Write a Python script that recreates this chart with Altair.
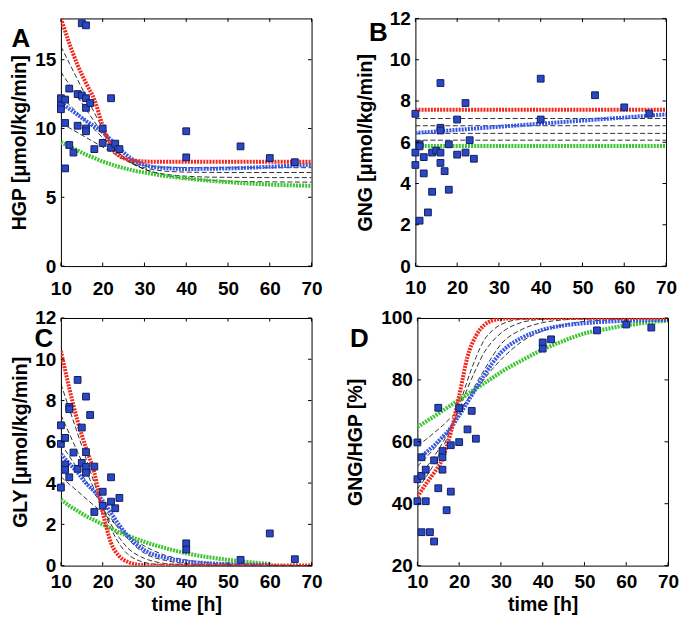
import altair as alt
import pandas as pd

# ---------------- data ----------------
T = [10, 12, 14, 16, 18, 20, 22, 24, 26, 28, 30, 35, 40, 45, 50, 55, 60, 65, 70]
TB = [10, 70]
XTICKS = [10, 20, 30, 40, 50, 60, 70]
LETTERS = ["A", "B", "C", "D"]
YTITLES = ["HGP [μmol/kg/min]", "GNG [μmol/kg/min]", "GLY [μmol/kg/min]", "GNG/HGP [%]"]
XTITLE = "time [h]"
YDOMAINS = [[0, 18], [0, 12], [0, 12], [20, 100]]
YTICKS = [[0, 5, 10, 15], [0, 2, 4, 6, 8, 10, 12], [0, 2, 4, 6, 8, 10, 12], [20, 40, 60, 80, 100]]

# Panel A: HGP
A_red = [18.0, 16.2, 14.6, 13.3, 12.1, 10.2, 8.7, 8.0, 7.75, 7.65, 7.6, 7.58, 7.58, 7.58, 7.58, 7.58, 7.58, 7.58, 7.58]
A_k1 = [15.95, 14.75, 13.55, 12.35, 11.15, 10.0, 8.95, 8.2, 7.7, 7.45, 7.3, 7.18, 7.16, 7.15, 7.15, 7.15, 7.15, 7.15, 7.15]
A_k2 = [14.1, 13.2, 12.3, 11.4, 10.5, 9.65, 8.8, 8.15, 7.65, 7.35, 7.15, 6.9, 6.83, 6.81, 6.8, 6.8, 6.8, 6.8, 6.8]
A_k3 = [12.33, 11.73, 11.13, 10.53, 9.93, 9.33, 8.73, 8.18, 7.73, 7.33, 7.03, 6.68, 6.53, 6.47, 6.45, 6.44, 6.43, 6.43, 6.43]
A_k4 = [10.4, 10.05, 9.7, 9.35, 9.0, 8.65, 8.3, 7.95, 7.6, 7.3, 7.05, 6.6, 6.37, 6.24, 6.17, 6.14, 6.12, 6.11, 6.1]
A_blue = [11.85, 11.43, 11.0, 10.55, 10.15, 9.75, 9.15, 8.55, 8.0, 7.6, 7.35, 7.12, 7.06, 7.07, 7.1, 7.15, 7.22, 7.29, 7.36]
A_green = [9.0, 8.7, 8.4, 8.1, 7.85, 7.6, 7.4, 7.2, 7.05, 6.9, 6.8, 6.55, 6.37, 6.22, 6.1, 6.0, 5.92, 5.87, 5.84]
A_pt_t = [10, 10, 10, 11, 11, 11, 12, 12, 13, 14, 14, 15, 15, 16, 16, 16, 16, 16, 17, 18, 20, 20, 22, 22, 23, 24, 40, 40, 53, 60, 66]
A_pt_v = [12.2, 11.7, 11.4, 12.1, 10.4, 7.1, 12.9, 8.8, 8.25, 12.5, 10.2, 12.4, 17.65, 17.5, 12.2, 11.5, 10.0, 9.8, 11.85, 8.5, 10.0, 8.95, 12.2, 8.6, 8.9, 8.5, 9.8, 7.9, 8.7, 7.85, 7.55]

# Panel B: GNG
B_red = [7.58, 7.58]
B_k1 = [7.15, 7.15]
B_k2 = [6.8, 6.8]
B_k3 = [6.43, 6.43]
B_k4 = [6.1, 6.1]
B_blue = [6.45, 7.35]
B_green = [5.82, 5.82]
B_pt_t = [10, 10, 10, 11, 11, 11, 12, 12, 13, 14, 14, 15, 16, 16, 16, 16, 16, 17, 18, 18, 20, 20, 22, 22, 23, 24, 40, 40, 53, 60, 66]
B_pt_v = [7.38, 5.5, 4.9, 5.9, 5.8, 2.2, 5.28, 4.49, 2.6, 5.5, 3.6, 5.6, 8.87, 6.7, 6.57, 5.5, 5.0, 4.6, 5.9, 3.7, 7.1, 5.4, 7.9, 5.5, 6.1, 5.2, 9.08, 7.1, 8.28, 7.69, 7.39]

# Panel C: GLY
C_red = [10.4, 8.6, 7.0, 5.7, 4.5, 2.6, 1.1, 0.45, 0.18, 0.06, 0.02, 0, 0, 0, 0, 0, 0, 0, 0]
C_k1 = [8.8, 7.6, 6.4, 5.2, 4.0, 2.85, 1.8, 1.05, 0.55, 0.3, 0.15, 0.03, 0.01, 0, 0, 0, 0, 0, 0]
C_k2 = [7.3, 6.4, 5.5, 4.6, 3.7, 2.85, 2.0, 1.35, 0.85, 0.55, 0.35, 0.1, 0.03, 0.01, 0, 0, 0, 0, 0]
C_k3 = [5.9, 5.3, 4.7, 4.1, 3.5, 2.9, 2.3, 1.75, 1.3, 0.9, 0.6, 0.25, 0.1, 0.04, 0.02, 0.01, 0, 0, 0]
C_k4 = [4.3, 3.95, 3.6, 3.25, 2.9, 2.55, 2.2, 1.85, 1.5, 1.2, 0.95, 0.5, 0.27, 0.14, 0.07, 0.04, 0.02, 0.01, 0]
C_blue = [5.4, 4.95, 4.5, 4.0, 3.6, 3.15, 2.55, 1.95, 1.45, 1.05, 0.75, 0.38, 0.2, 0.12, 0.07, 0.04, 0.03, None, None]
C_green = [3.2, 2.9, 2.65, 2.4, 2.2, 2.0, 1.8, 1.6, 1.45, 1.3, 1.15, 0.85, 0.6, 0.42, 0.28, 0.17, 0.08, None, None]
C_pt_t = [10, 10, 10, 11, 11, 11, 12, 12, 12, 13, 14, 14, 15, 15, 16, 16, 16, 16, 17, 18, 18, 20, 20, 22, 22, 23, 24, 40, 40, 53, 60, 66]
C_pt_v = [6.8, 5.9, 3.78, 6.19, 4.9, 4.64, 7.69, 7.58, 4.28, 5.48, 9.0, 4.69, 6.69, 4.98, 8.19, 5.5, 4.78, 4.5, 7.3, 4.8, 2.6, 3.58, 2.9, 4.28, 3.1, 2.78, 3.28, 1.08, 0.78, 0.28, 1.56, 0.31]

# Panel D: GNG/HGP
D_red = [42.2, 46.3, 50.0, 54.5, 63.0, 74.8, 87.5, 94.2, 97.7, 99.2, 99.7, 100, 100, 100, 100, 100, 100, 100, 100]
D_k1 = [44.8, 48.5, 52.8, 57.9, 64.1, 71.5, 79.9, 87.2, 92.9, 96.0, 97.9, 99.6, 99.9, 100, 100, 100, 100, 100, 100]
D_k2 = [48.2, 51.5, 55.3, 59.6, 64.8, 70.5, 77.3, 83.4, 88.9, 92.5, 95.1, 98.6, 99.6, 99.9, 100, 100, 100, 100, 100]
D_k3 = [52.1, 54.8, 57.8, 61.1, 64.8, 68.9, 73.7, 78.6, 83.2, 87.7, 91.5, 96.3, 98.5, 99.4, 99.7, 99.8, 100, 100, 100]
D_k4 = [58.7, 60.7, 62.9, 65.2, 67.8, 70.5, 73.5, 76.7, 80.3, 83.6, 86.5, 92.4, 95.8, 97.8, 98.9, 99.3, 99.7, 99.8, 100]
D_blue = [54.4, 56.5, 58.8, 61.5, 64.5, 68.5, 72.8, 77.2, 81.5, 85.5, 88.8, 93.6, 96.2, 97.6, 98.3, 98.8, 99.1, 99.3, 99.4]
D_green = [64.8, 66.5, 68.2, 70.0, 71.8, 73.6, 75.4, 77.2, 78.9, 80.7, 82.5, 86.3, 89.8, 92.6, 95.0, 96.4, 97.6, 98.5, 99.2]
D_pt_t = [10, 10, 10, 11, 11, 11, 12, 12, 13, 14, 14, 15, 15, 16, 16, 16, 17, 18, 18, 20, 20, 22, 23, 24, 40, 40, 42, 53, 60, 66]
D_pt_v = [59.8, 47.9, 40.8, 55, 49, 30.8, 51, 40.8, 30.8, 54, 27.8, 71, 45, 57, 55, 51, 37.9, 58.9, 43.9, 59.9, 70.9, 64, 70, 61, 92.1, 90.1, 93.1, 96, 97.9, 96.9]

# ---------------- style ----------------
W, H = 251, 248
TK = 3.5
RED, GREEN, BLUE = "#f2281c", "#3cc431", "#3558e6"
SQ_FILL, SQ_STROKE = "#2a48c6", "#141e5c"
FONT = "Liberation Sans"


def panel(i, ts, red, k1, k2, k3, k4, blue, green, pt_t, pt_v,
          lab_pad, title_pad, ldx, ldy):
    xs = alt.Scale(domain=[10, 70], nice=False, zero=False)
    ys = alt.Scale(domain=YDOMAINS[i], nice=False, zero=False)
    xaxis = alt.Axis(values=XTICKS, labelPadding=lab_pad, labelFlush=False,
                     titlePadding=4)
    yaxis = alt.Axis(values=YTICKS[i], labelPadding=5, labelFlush=False,
                     titlePadding=title_pad)
    X = alt.X("t:Q", scale=xs, axis=xaxis, title=XTITLE if i >= 2 else None)
    Y = alt.Y("v:Q", scale=ys, axis=yaxis, title=YTITLES[i])

    rows = []
    for name, vals in (("k1", k1), ("k2", k2), ("k3", k3), ("k4", k4)):
        for t, v in zip(ts, vals):
            rows.append({"t": t, "v": v, "s": name})
    dashed = alt.Chart(pd.DataFrame(rows)).mark_line(
        color="black", strokeWidth=0.8, strokeDash=[5, 2.5], clip=True,
        interpolate="monotone"
    ).encode(x=X, y=Y, detail="s:N")

    def dotted(vals, col):
        df = pd.DataFrame({"t": ts, "v": vals}).dropna()
        return alt.Chart(df).mark_line(
            color=col, strokeWidth=4, strokeDash=[2, 1.1], clip=True,
            interpolate="monotone"
        ).encode(x=X, y=Y)

    pts = alt.Chart(pd.DataFrame({"t": pt_t, "v": pt_v})).mark_point(
        shape="square", filled=True, size=46, fill=SQ_FILL, stroke=SQ_STROKE,
        strokeWidth=1, opacity=1
    ).encode(x=X, y=Y)

    xt = pd.DataFrame({"t": XTICKS})
    yt = pd.DataFrame({"v": YTICKS[i]})
    tb = alt.Chart(xt).mark_rule(color="black", strokeWidth=1).encode(
        x=X, y=alt.value(H), y2=alt.value(H - TK))
    tt = alt.Chart(xt).mark_rule(color="black", strokeWidth=1).encode(
        x=X, y=alt.value(0), y2=alt.value(TK))
    tl = alt.Chart(yt).mark_rule(color="black", strokeWidth=1).encode(
        y=Y, x=alt.value(0), x2=alt.value(TK))
    tr = alt.Chart(yt).mark_rule(color="black", strokeWidth=1).encode(
        y=Y, x=alt.value(W), x2=alt.value(W - TK))

    letter = alt.Chart(pd.DataFrame({"L": [LETTERS[i]]})).mark_text(
        font=FONT, fontSize=26, fontWeight="bold", color="black",
        align="center", baseline="middle"
    ).encode(text="L:N", x=alt.value(ldx), y=alt.value(ldy))

    return alt.layer(
        dashed, dotted(green, GREEN), dotted(blue, BLUE), dotted(red, RED),
        pts, tb, tt, tl, tr, letter
    ).properties(width=W, height=H)


pA = panel(0, T, A_red, A_k1, A_k2, A_k3, A_k4, A_blue, A_green, A_pt_t, A_pt_v,
           13.5, 5.5, -40, 21)
pB = panel(1, TB, B_red, B_k1, B_k2, B_k3, B_k4, B_blue, B_green, B_pt_t, B_pt_v,
           12, 14, -37, 15)
pC = panel(2, T, C_red, C_k1, C_k2, C_k3, C_k4, C_blue, C_green, C_pt_t, C_pt_v,
           6.5, 4.5, -17, 21)
pD = panel(3, T, D_red, D_k1, D_k2, D_k3, D_k4, D_blue, D_green, D_pt_t, D_pt_v,
           6.5, 15, -58, 21)

top = alt.hconcat(pA, pB, spacing=31)
bottom = alt.hconcat(pC, pD, spacing=21)

chart = alt.vconcat(top, bottom, spacing=9).properties(
    padding=0, background="white"
).configure_view(
    stroke="black", strokeWidth=1
).configure_axis(
    labelFont=FONT, labelFontSize=19, labelFontWeight="bold", labelColor="black",
    titleFont=FONT, titleFontSize=19.5, titleFontWeight="bold", titleColor="black",
    ticks=False, grid=False, domain=False
)

chart.save("out.html", embed_options={"renderer": "svg", "actions": False})
